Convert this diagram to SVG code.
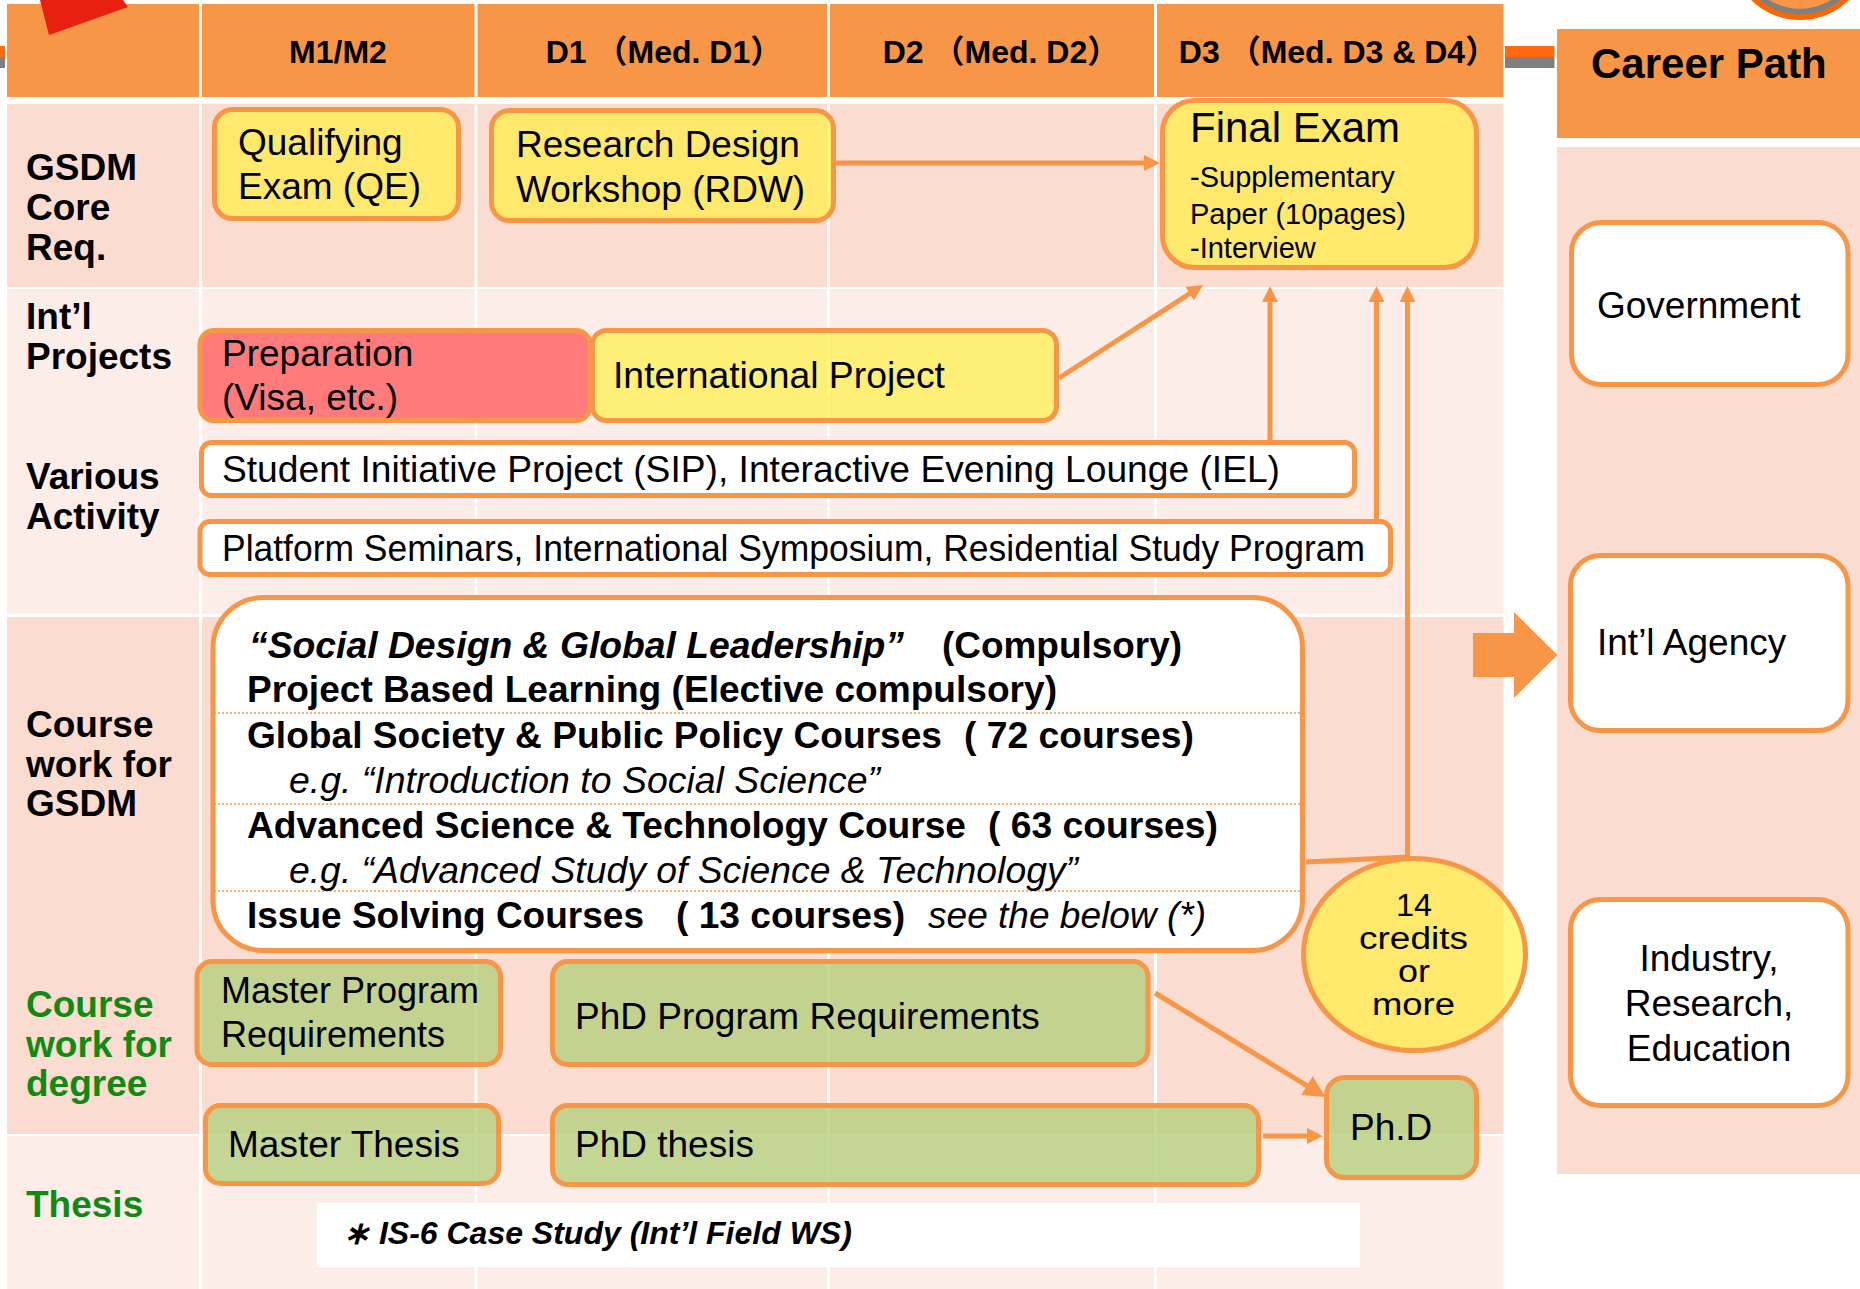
<svg xmlns="http://www.w3.org/2000/svg" width="1860" height="1289" viewBox="0 0 1860 1289">
<style>
text{font-family:"Liberation Sans",Arial,"Noto Sans CJK JP",sans-serif;fill:#000}
.b{font-weight:bold}
.i{font-style:italic}
.h{font-size:32px;font-weight:bold}
.lab{font-size:37px;font-weight:bold}
.g{fill:#108A14}
.m{font-size:37px}
.c{font-size:36px}
.s{font-size:29px}
.e{font-size:31px}
.nd{stroke:#F79646;stroke-width:5}
.yel{fill:#FFF030;fill-opacity:0.62}
.grn{fill:#B4CF7C;fill-opacity:0.78}
.wht{fill:#FFFFFF}
.red{fill:#FF7B7B}
.dark{fill:#FBDCD0}
.light{fill:#FCEDE9}
.cn{fill:none;stroke:#F79646;stroke-width:5}
.dot{stroke:#F79646;stroke-width:1.5;stroke-dasharray:2 2}
</style>
<defs>
<marker id="ah" markerUnits="userSpaceOnUse" markerWidth="16" markerHeight="16" refX="8" refY="8" orient="auto">
<path d="M0,0 L16,8 L0,16 z" fill="#F79646"/>
</marker>
<marker id="ahL" markerUnits="userSpaceOnUse" markerWidth="22" markerHeight="22" refX="11" refY="11" orient="auto">
<path d="M0,0 L22,11 L0,22 z" fill="#F79646"/>
</marker>
</defs>

<g id="background">
<rect x="7" y="4" width="1496.5" height="93" fill="#F79646"/>
<rect x="7" y="104" width="1496.5" height="183" class="dark"/>
<rect x="7" y="289" width="1496.5" height="325" class="light"/>
<rect x="7" y="617" width="1496.5" height="517" class="dark"/>
<rect x="7" y="1136" width="1496.5" height="153" class="light"/>
<rect x="199" y="0" width="3" height="1289" fill="#FFFFFF"/>
<rect x="474.5" y="0" width="3" height="1289" fill="#FFFFFF"/>
<rect x="827" y="0" width="3" height="1289" fill="#FFFFFF"/>
<rect x="1154" y="0" width="3" height="1289" fill="#FFFFFF"/>
<rect x="1557" y="29" width="303" height="109" fill="#F79646"/>
<rect x="1557" y="147" width="303" height="1027" class="dark"/>
<polygon points="40,0 123,0 128,7 49,35" fill="#E8200F"/>
<rect x="0" y="46" width="5" height="11" fill="#FF6A10"/>
<rect x="0" y="57" width="5" height="11" fill="#808080"/>
<rect x="1505" y="46" width="49.5" height="11" fill="#FF6A10"/>
<rect x="1505" y="57" width="49.5" height="11" fill="#808080"/>
<circle cx="1800" cy="-50" r="70" fill="#FF6600"/>
<circle cx="1800" cy="-50" r="64.7" fill="#808080"/>
<circle cx="1800" cy="-50" r="58.8" fill="#F79646"/>
<polygon points="1473,633 1514,633 1514,612 1557.5,655 1514,698 1514,677 1473,677" fill="#F79646"/>
<rect x="317" y="1203" width="1043" height="64" fill="#FFFFFF"/>
</g>

<g id="headers">
<text class="h" x="338" y="63" text-anchor="middle">M1/M2</text>
<text class="h" x="664" y="63" text-anchor="middle">D1 （Med. D1）</text>
<text class="h" x="1001" y="63" text-anchor="middle">D2 （Med. D2）</text>
<text class="h" x="1338" y="63" text-anchor="middle">D3 （Med. D3 &amp; D4）</text>
<text class="b" x="1591" y="78" font-size="42">Career Path</text>
</g>

<g id="row-labels">
<text class="lab"><tspan x="26" y="180">GSDM</tspan><tspan x="26" y="220">Core</tspan><tspan x="26" y="260">Req.</tspan></text>
<text class="lab"><tspan x="26" y="329">Int’l</tspan><tspan x="26" y="369">Projects</tspan></text>
<text class="lab"><tspan x="26" y="489">Various</tspan><tspan x="26" y="529">Activity</tspan></text>
<text class="lab"><tspan x="26" y="737">Course</tspan><tspan x="26" y="777">work for</tspan><tspan x="26" y="816">GSDM</tspan></text>
<text class="lab g"><tspan x="26" y="1017">Course</tspan><tspan x="26" y="1057">work for</tspan><tspan x="26" y="1096">degree</tspan></text>
<text class="lab g" x="26" y="1217">Thesis</text>
</g>

<g id="connectors">
<line class="cn" x1="836" y1="163" x2="1152" y2="163" marker-end="url(#ah)"/>
<line class="cn" x1="1059" y1="378" x2="1196.3" y2="289.3" marker-end="url(#ah)"/>
<line class="cn" x1="1270" y1="440" x2="1270" y2="294" marker-end="url(#ah)"/>
<line class="cn" x1="1376.5" y1="519" x2="1376.5" y2="294" marker-end="url(#ah)"/>
<polyline class="cn" points="1306,862 1407.5,857 1407.5,294" marker-end="url(#ah)"/>
<line class="cn" x1="1155" y1="993" x2="1316.3" y2="1091.3" stroke-width="6" marker-end="url(#ahL)"/>
<line class="cn" x1="1263" y1="1136" x2="1315" y2="1136" marker-end="url(#ah)"/>
</g>

<g id="node-qe">
<rect class="nd yel" x="214.5" y="109.5" width="244" height="109" rx="18"/>
<text class="m"><tspan x="238" y="155">Qualifying</tspan><tspan x="238" y="199">Exam (QE)</tspan></text>
</g>
<g id="node-rdw">
<rect class="nd yel" x="491.5" y="110.5" width="342" height="110" rx="18"/>
<text class="m"><tspan x="516" y="157">Research Design</tspan><tspan x="516" y="202">Workshop (RDW)</tspan></text>
</g>
<g id="node-final">
<rect class="nd yel" x="1162.5" y="100.5" width="314" height="167" rx="32"/>
<text x="1190" y="142" font-size="42">Final Exam</text>
<text class="s"><tspan x="1190" y="187">-Supplementary</tspan><tspan x="1190" y="224">Paper (10pages)</tspan><tspan x="1190" y="258">-Interview</tspan></text>
</g>
<g id="node-prep">
<rect class="nd red" x="200" y="330.5" width="390" height="90" rx="14"/>
<text class="m"><tspan x="222" y="366">Preparation</tspan><tspan x="222" y="410">(Visa, etc.)</tspan></text>
</g>
<g id="node-intl-project">
<rect class="nd yel" x="592.5" y="330.5" width="464" height="90" rx="14"/>
<text class="m" x="613" y="388" textLength="332" lengthAdjust="spacingAndGlyphs">International Project</text>
</g>
<g id="node-sip">
<rect class="nd wht" x="201.5" y="442.5" width="1153" height="53" rx="10"/>
<text class="m" x="222" y="482" textLength="1058" lengthAdjust="spacingAndGlyphs">Student Initiative Project (SIP), Interactive Evening Lounge (IEL)</text>
</g>
<g id="node-platform">
<rect class="nd wht" x="200" y="521.5" width="1190.5" height="53" rx="10"/>
<text class="m" x="222" y="561" textLength="1143" lengthAdjust="spacingAndGlyphs">Platform Seminars, International Symposium, Residential Study Program</text>
</g>
<g id="node-coursework">
<rect class="nd wht" x="213" y="597.5" width="1089.5" height="353" rx="50"/>
<line class="dot" x1="214" y1="713" x2="1301" y2="713"/>
<line class="dot" x1="214" y1="804" x2="1301" y2="804"/>
<line class="dot" x1="214" y1="891" x2="1301" y2="891"/>
<text class="c b i" x="249" y="658" textLength="655" lengthAdjust="spacingAndGlyphs">“Social Design &amp; Global Leadership”</text>
<text class="c b" x="942" y="658" textLength="240" lengthAdjust="spacingAndGlyphs">(Compulsory)</text>
<text class="c b" x="247" y="702" textLength="810" lengthAdjust="spacingAndGlyphs">Project Based Learning (Elective compulsory)</text>
<text class="c b" x="247" y="748" textLength="695" lengthAdjust="spacingAndGlyphs">Global Society &amp; Public Policy Courses</text>
<text class="c b" x="964" y="748" textLength="230" lengthAdjust="spacingAndGlyphs">( 72 courses)</text>
<text class="c i" x="289" y="793" textLength="591" lengthAdjust="spacingAndGlyphs">e.g. “Introduction to Social Science”</text>
<text class="c b" x="247" y="838" textLength="719" lengthAdjust="spacingAndGlyphs">Advanced Science &amp; Technology Course</text>
<text class="c b" x="988" y="838" textLength="230" lengthAdjust="spacingAndGlyphs">( 63 courses)</text>
<text class="c i" x="289" y="883" textLength="789" lengthAdjust="spacingAndGlyphs">e.g. “Advanced Study of Science &amp; Technology”</text>
<text class="c b" x="247" y="928" textLength="397" lengthAdjust="spacingAndGlyphs">Issue Solving Courses</text>
<text class="c b" x="676" y="928" textLength="229" lengthAdjust="spacingAndGlyphs">( 13 courses)</text>
<text class="c i" x="928" y="928" textLength="278" lengthAdjust="spacingAndGlyphs">see the below (*)</text>
</g>
<g id="node-credits">
<ellipse class="nd yel" cx="1414.5" cy="954.5" rx="111" ry="96"/>
<text class="e" x="1396" y="916" textLength="36" lengthAdjust="spacingAndGlyphs">14</text>
<text class="e" x="1359" y="949" textLength="109" lengthAdjust="spacingAndGlyphs">credits</text>
<text class="e" x="1398" y="982" textLength="32" lengthAdjust="spacingAndGlyphs">or</text>
<text class="e" x="1372" y="1015" textLength="83" lengthAdjust="spacingAndGlyphs">more</text>
</g>
<g id="node-master-req">
<rect class="nd grn" x="197" y="961.5" width="303.5" height="103" rx="15"/>
<text class="c"><tspan x="221" y="1003">Master Program</tspan><tspan x="221" y="1047">Requirements</tspan></text>
</g>
<g id="node-phd-req">
<rect class="nd grn" x="552.5" y="961.5" width="595.5" height="103" rx="15"/>
<text class="m" x="575" y="1029">PhD Program Requirements</text>
</g>
<g id="node-master-thesis">
<rect class="nd grn" x="205.5" y="1105.5" width="293" height="78" rx="15"/>
<text class="m" x="228" y="1157">Master Thesis</text>
</g>
<g id="node-phd-thesis">
<rect class="nd grn" x="552.5" y="1105.5" width="706" height="79" rx="15"/>
<text class="m" x="575" y="1157">PhD thesis</text>
</g>
<g id="node-phd">
<rect class="nd grn" x="1326.5" y="1077.5" width="150" height="100" rx="18"/>
<text class="m" x="1350" y="1140">Ph.D</text>
</g>
<g id="node-government">
<rect class="nd wht" x="1571.5" y="222.5" width="276.5" height="162" rx="30"/>
<text class="m" x="1597" y="318">Government</text>
</g>
<g id="node-agency">
<rect class="nd wht" x="1570.5" y="555.5" width="277.5" height="175" rx="30"/>
<text class="m" x="1597" y="655">Int’l Agency</text>
</g>
<g id="node-industry">
<rect class="nd wht" x="1570.5" y="899.5" width="277.5" height="206" rx="30"/>
<text class="m" text-anchor="middle"><tspan x="1709" y="971">Industry,</tspan><tspan x="1709" y="1016">Research,</tspan><tspan x="1709" y="1061">Education</tspan></text>
</g>
<g id="footnote">
<text class="b i" x="343" y="1244" font-size="32">∗ IS-6 Case Study (Int’l Field WS)</text>
</g>
</svg>
